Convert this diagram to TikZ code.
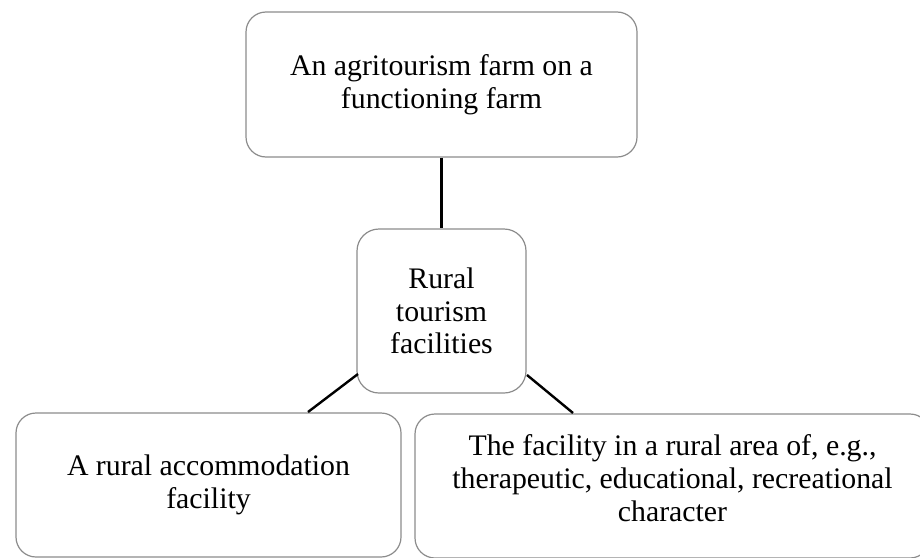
\documentclass[tikz,border=0pt]{standalone}
\usepackage{fontspec}
\setmainfont{Liberation Serif}
\begin{document}
\begin{tikzpicture}[x=1pt,y=-1pt,
  box/.style={draw=black!45, line width=1.2pt, rounded corners=20pt, fill=white, inner sep=0pt},
  txt/.style={align=center, font=\fontsize{29.8}{32.8}\selectfont, inner sep=0pt},
  conn/.style={draw=black, line width=2.4pt}]
\useasboundingbox (0,0) rectangle (920,557);
\clip (0,0) rectangle (920,557);
\node[box, minimum width=391pt, minimum height=145pt] (top) at (441.5,84.5) {};
\node[txt] (toptxt) at (top.center) {An agritourism farm on a\\functioning farm};
\node[box, minimum width=169pt, minimum height=164pt, rounded corners=22pt] (mid) at (441.5,311) {};
\node[txt] (midtxt) at (mid.center) {Rural\\tourism\\facilities};
\node[box, minimum width=385pt, minimum height=144pt] (left) at (208.5,485) {};
\node[txt] (lefttxt) at (left.center) {A rural accommodation\\facility};
\node[box, minimum width=515pt, minimum height=144pt] (right) at (672.5,486) {};
\node[txt] (righttxt) at (672.5,478) {The facility in a rural area of, e.g.,\\therapeutic, educational, recreational\\character};
\coordinate (ml) at (358,374);
\coordinate (mr) at (527,375);
\coordinate (lt) at (308,412);
\coordinate (rt) at (573,413);
\draw[conn] (top.south) -- (mid.north);
\draw[conn] (ml) -- (lt);
\draw[conn] (mr) -- (rt);
\end{tikzpicture}
\end{document}
